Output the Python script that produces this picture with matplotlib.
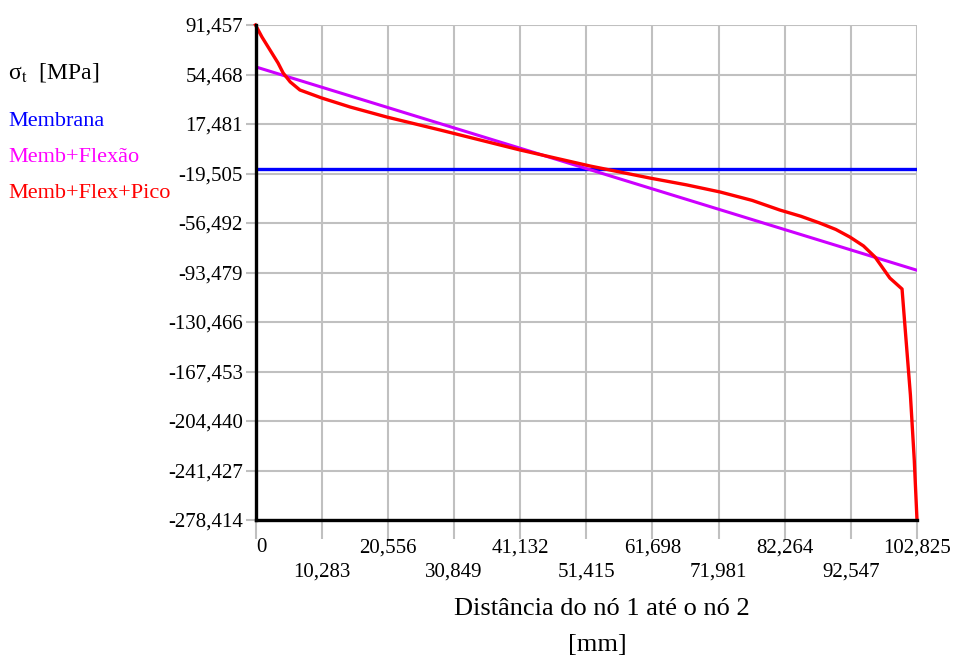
import numpy as np
import matplotlib.pyplot as plt

# ── Data ──────────────────────────────────────────────────────────────────────
y_ticks = [91.457, 54.468, 17.481, -19.505, -56.492, -93.479,
           -130.466, -167.453, -204.440, -241.427, -278.414]
x_ticks = [0, 10.283, 20.556, 30.849, 41.132, 51.415,
           61.698, 71.981, 82.264, 92.547, 102.825]

# membrane stress (constant)
memb_x = [0, 102.825]
memb_y = [-15.8, -15.8]

# membrane + bending (linear)
flex_x = [0, 102.825]
flex_y = [60.2, -91.8]

# membrane + bending + peak
pico_x = [0, 1.0, 2.25, 3.5, 4.3, 5.4, 6.9, 10.3, 14.7, 20.4, 28.7,
          41.1, 52.0, 61.3, 67.0, 72.2, 77.2, 81.5, 84.8, 87.7, 90.2, 92.4,
          94.5, 96.3, 98.6, 100.5, 101.0, 101.8, 102.4, 102.825]
pico_y = [91.457, 82.5, 72.8, 63.1, 55.6, 48.9, 42.9, 36.9, 30.2, 22.7, 13.0,
          -1.9, -13.9, -22.9, -28.0, -33.3, -39.6, -46.8, -51.5, -56.5, -61.3, -67.0,
          -73.6, -81.9, -97.6, -105.8, -136.4, -185.0, -233.6, -278.414]

def fmt(v):
    return '0' if v == 0 else f'{v:.3f}'.replace('.', ',')

# ── Figure ────────────────────────────────────────────────────────────────────
plt.rcParams['font.family'] = ['Liberation Serif', 'DejaVu Serif']
plt.rcParams['mathtext.fontset'] = 'stix'

fig = plt.figure(figsize=(9.57, 6.59), dpi=100)
ax = fig.add_axes([255.5 / 957, 139 / 659, 661.5 / 957, 495 / 659])

ax.plot(memb_x, memb_y, color='#0000ff', lw=2.4, zorder=3)
ax.plot(flex_x, flex_y, color='#cc00ff', lw=2.2, zorder=3)
ax.plot(pico_x, pico_y, color='#ff0000', lw=2.4, zorder=4,
        solid_joinstyle='round', clip_on=False)

ax.set_xlim(0, 102.825)
ax.set_ylim(-278.414, 91.457)

ax.set_yticks(y_ticks)
ax.set_yticklabels([fmt(v) for v in y_ticks], fontsize=15)
ax.set_xticks(x_ticks)
ax.set_xticklabels([])

ax.grid(True, color='#c0c0c0', lw=1.5, zorder=0)
ax.tick_params(axis='y', length=7, width=1.5, color='#c0c0c0', pad=2)
ax.tick_params(axis='x', length=14, width=1.5, color='#c0c0c0')

for s in ['top', 'right']:
    ax.spines[s].set_visible(False)
for s in ['left', 'bottom']:
    ax.spines[s].set_color('black')
    ax.spines[s].set_linewidth(2.4)
    ax.spines[s].set_zorder(5)

# staggered x labels on two rows
for i, v in enumerate(x_ticks):
    yoff = 548 if i % 2 == 0 else 572
    fig.text(ax.transData.transform((v, 0))[0] / 957 + (0.006 if v == 0 else 0),
             1 - yoff / 659, fmt(v), fontsize=15, ha='center', va='center')

fig.text(602 / 957, 1 - 609 / 659, 'Distância do nó 1 até o nó 2',
         fontsize=19, ha='center', va='center')
fig.text(597 / 957, 1 - 645 / 659, '[mm]', fontsize=19, ha='center', va='center')

# y label and series names on the left
fig.text(8 / 957, 1 - 73 / 659, r'σ$_{\rm t}$  [MPa]', fontsize=17,
         ha='left', va='center')
fig.text(8 / 957, 1 - 122 / 659, 'Membrana', fontsize=16, color='#0000ff',
         ha='left', va='center')
fig.text(8 / 957, 1 - 157 / 659, 'Memb+Flexão', fontsize=16, color='#ff00ff',
         ha='left', va='center')
fig.text(8 / 957, 1 - 193 / 659, 'Memb+Flex+Pico', fontsize=16, color='#ff0000',
         ha='left', va='center')

fig.savefig('out.png', dpi=100)
